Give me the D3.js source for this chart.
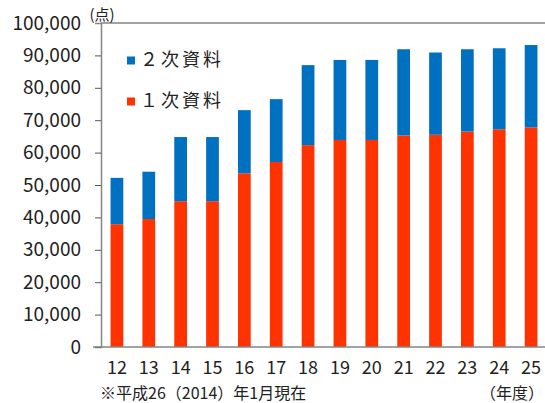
<!DOCTYPE html>
<html>
<head>
<meta charset="utf-8">
<script src="https://cdn.jsdelivr.net/npm/d3@7"></script>
<style>
  body { margin: 0; background: #fff; }
  text { font-family: "Noto Sans CJK JP", "Noto Sans", sans-serif; fill: #222; }
</style>
</head>
<body>
<div id="chart"></div>
<script>
const svgWidth = 545;
const svgHeight = 403;

// fiscal years (平成)
const years = ["12", "13", "14", "15", "16", "17", "18", "19", "20", "21", "22", "23", "24", "25"];
// 1次資料 (primary)
const primary = [37900, 39500, 45000, 45000, 53600, 57100, 62300, 63900, 63900, 65300, 65500, 66500, 67200, 67800];
// 2次資料 (secondary), stacked on top
const secondary = [14300, 14600, 19800, 19800, 19500, 19400, 24700, 24700, 24700, 26600, 25400, 25400, 25000, 25400];
const yTicks = [0, 10000, 20000, 30000, 40000, 50000, 60000, 70000, 80000, 90000, 100000];

const seriesNames = ["1次資料", "2次資料"];
const colors = {"1次資料": "#FF3300", "2次資料": "#0070C0"};

const table = years.map((y, i) => ({year: y, "1次資料": primary[i], "2次資料": secondary[i]}));
const stacked = d3.stack().keys(seriesNames)(table);

const plotLeft = 101, plotRight = 547, plotTop = 23, plotBottom = 347;
const numFont = "'Noto Sans', sans-serif";

const x = d3.scaleBand()
    .domain(years)
    .range([plotLeft, plotRight])
    .paddingInner(0.6)
    .paddingOuter(0.3);

const y = d3.scaleLinear()
    .domain([0, 100000])
    .range([plotBottom, plotTop]);

const svg = d3.select("#chart")
    .append("svg")
    .attr("width", svgWidth)
    .attr("height", svgHeight);

// bars
svg.append("g")
    .selectAll("g")
    .data(stacked)
    .join("g")
    .attr("fill", d => colors[d.key])
    .selectAll("rect")
    .data(d => d)
    .join("rect")
    .attr("x", d => x(d.data.year))
    .attr("y", d => y(d[1]))
    .attr("width", x.bandwidth())
    .attr("height", d => y(d[0]) - y(d[1]));

// plot frame top line
svg.append("line")
    .attr("x1", plotLeft).attr("x2", svgWidth)
    .attr("y1", plotTop).attr("y2", plotTop)
    .attr("stroke", "#858585")
    .attr("stroke-width", 1.5);

// y axis
const yAxis = svg.append("g")
    .attr("transform", `translate(${plotLeft},0)`)
    .call(d3.axisLeft(y)
        .tickValues(yTicks)
        .tickSize(6)
        .tickPadding(14)
        .tickFormat(d3.format(",")));
yAxis.select(".domain").attr("stroke", "#858585").attr("stroke-width", 1.5);
yAxis.selectAll(".tick line").attr("stroke", "#555");
yAxis.selectAll(".tick").filter(d => d === 100000).select("line").remove();
yAxis.selectAll("text")
    .attr("font-size", "19px")
    .attr("fill", "#222")
    .attr("font-family", numFont);

// x axis
const xAxis = svg.append("g")
    .attr("transform", `translate(0,${plotBottom})`)
    .call(d3.axisBottom(x).tickSize(0).tickPadding(14));
xAxis.select(".domain")
    .attr("d", `M${plotLeft - 8},0H${svgWidth}`)
    .attr("stroke", "#858585")
    .attr("stroke-width", 1.5);
xAxis.selectAll("text")
    .attr("font-size", "18px")
    .attr("fill", "#222")
    .attr("font-family", numFont);

// unit label
svg.append("text")
    .attr("x", 102)
    .attr("y", 20)
    .attr("text-anchor", "middle")
    .attr("font-size", "15px")
    .text("(点)");

// legend
const legend = svg.append("g")
    .selectAll("g")
    .data(["2次資料", "1次資料"])
    .join("g")
    .attr("transform", (d, i) => `translate(127,${60 + i * 41})`);

legend.append("rect")
    .attr("x", 0)
    .attr("y", -3.5)
    .attr("width", 8)
    .attr("height", 8)
    .attr("fill", d => colors[d]);

legend.append("text")
    .attr("x", 13)
    .attr("y", 0)
    .attr("dy", "0.35em")
    .attr("font-size", "18px")
    .attr("letter-spacing", "3px")
    .text(d => d.replace("1", "１").replace("2", "２"));

// footnotes
svg.append("text")
    .attr("x", 100)
    .attr("y", 399)
    .attr("font-size", "16px")
    .text("※平成26（2014）年1月現在");

svg.append("text")
    .attr("x", 544)
    .attr("y", 399)
    .attr("text-anchor", "end")
    .attr("font-size", "16px")
    .text("（年度）");
</script>
</body>
</html>
